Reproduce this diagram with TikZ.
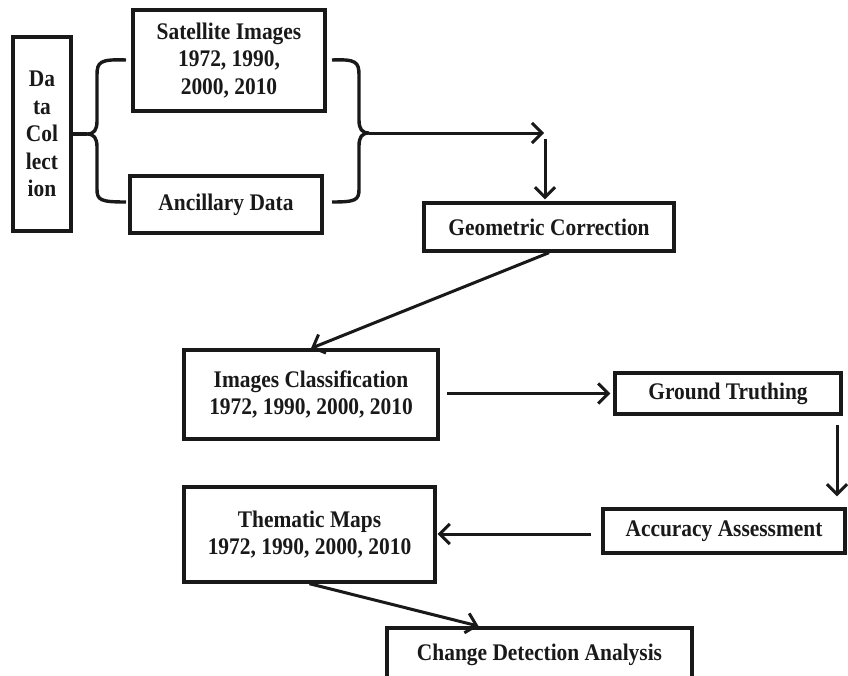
\documentclass[tikz,border=0pt]{standalone}
\usepackage{fontspec}
\setmainfont{Liberation Serif}[FakeStretch=0.9]
\usetikzlibrary{arrows.meta,calc}
\begin{document}
\begin{tikzpicture}[x=1pt,y=-1pt,
  box/.style={draw=black!90, line width=3.4pt, inner sep=0pt, align=center,
    font=\fontsize{23.8}{27.5}\selectfont\bfseries, text=black!90},
  arr/.style={draw=black!90, line width=3pt,
    -{Straight Barb[length=10pt,width=20pt,line width=3pt]}},
  brace/.style={draw=black!90, line width=3.4pt}]
\useasboundingbox (0,0) rectangle (848,675);
\fill[white] (0,0) rectangle (848,675);

\node[box, minimum width=58pt, minimum height=194pt] (dc) at (42,134)
  {Da\\ta\\Col\\lect\\ion};
\node[box, minimum width=192pt, minimum height=101pt] (sat) at (229,60.5)
  {Satellite Images\\1972, 1990,\\2000, 2010};
\node[box, minimum width=192pt, minimum height=57pt] (anc) at (226,204.5)
  {Ancillary Data};
\node[box, minimum width=250pt, minimum height=48pt] (geo) at (549,227)
  {Geometric Correction};
\node[box, minimum width=254pt, minimum height=89pt] (imgc) at (311,394.5)
  {Images Classification\\1972, 1990, 2000, 2010};
\node[box, minimum width=226pt, minimum height=41pt] (gt) at (728,393.5)
  {Ground Truthing};
\node[box, minimum width=242pt, minimum height=44pt] (acc) at (724,531)
  {Accuracy Assessment};
\node[box, minimum width=251pt, minimum height=95pt] (them) at (309.5,534.5)
  {Thematic Maps\\1972, 1990, 2000, 2010};
\node[box, minimum width=305pt, minimum height=54pt] (cd) at (539.5,655)
  {Change Detection Analysis};

% left brace
\coordinate (lc) at (87,134);
\draw[brace] (126,60) .. controls (100,59) and (97,62) .. (97,75) -- (97,121)
  .. controls (97,130) and (94,134) .. (lc)
  .. controls (94,134) and (97,138) .. (97,147) -- (97,189)
  .. controls (97,200) and (100,202) .. (126,202);
\draw[brace] (dc.east |- lc) -- (lc);

% right brace
\coordinate (rc) at (369,133);
\draw[brace] (332,60) .. controls (356,59) and (359,62) .. (359,75) -- (359,120)
  .. controls (359,129) and (362,133) .. (rc)
  .. controls (362,133) and (359,137) .. (359,146) -- (359,189)
  .. controls (359,200) and (356,202) .. (332,202);

\coordinate (corner) at (545,133);
\coordinate (cornerb) at (545,139);
\draw[arr, shorten >=1pt] (rc) -- (corner);
\draw[arr, shorten >=2pt] (cornerb) -- (cornerb |- geo.north);

\draw[arr] (geo.south) -- (imgc.north);
\draw[arr, shorten <=7pt, shorten >=3pt] (imgc.east |- gt.west) -- (gt.west);
\coordinate (gtd) at ($(gt.south)+(109,0)$);
\draw[arr, shorten <=9pt, shorten >=11pt] (gtd) -- (gtd |- acc.north);
\coordinate (accw) at ($(acc.west)+(0,3)$);
\draw[arr, shorten <=10pt, shorten >=1pt] (accw) -- (accw -| them.east);
\draw[arr, shorten >=1pt] (them.south) -- ($(cd.north)+(-60,0)$);
\end{tikzpicture}
\end{document}
